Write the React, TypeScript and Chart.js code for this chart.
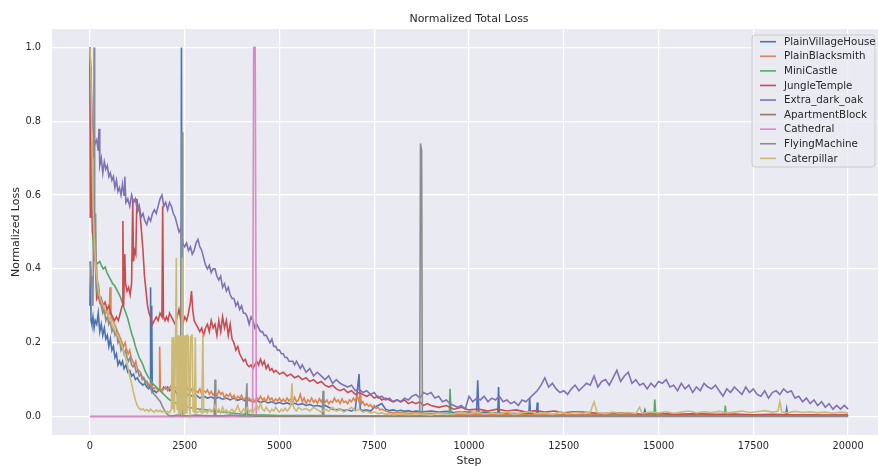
import { useEffect, useRef } from 'react';
import { Chart, registerables } from 'chart.js';
Chart.register(...registerables);

const seriesNames = ['PlainVillageHouse', 'PlainBlacksmith', 'MiniCastle', 'JungleTemple', 'Extra_dark_oak', 'ApartmentBlock', 'Cathedral', 'FlyingMachine', 'Caterpillar'];
const seriesColors = ['#4C72B0', '#DD8452', '#55A868', '#C44E52', '#8172B3', '#937860', '#DA8BC3', '#8C8C8C', '#CCB974'];
const xTicks = [0, 2500, 5000, 7500, 10000, 12500, 15000, 17500, 20000];
const yTicks = [0, 0.2, 0.4, 0.6, 0.8, 1.0];

type P = [number, number][];

const plainVillageHouse: P = [
  [0,0.30],[15,0.42],[30,0.26],[50,0.25],[80,0.27],[110,0.24],[140,0.26],[180,0.25],[220,0.28],[260,0.23],[300,0.25],[340,0.22],[380,0.24],[420,0.21],[460,0.22],[500,0.19],[540,0.21],[580,0.18],[620,0.19],[660,0.16],[700,0.17],[740,0.14],[780,0.15],[820,0.14],[860,0.15],[900,0.13],[950,0.14],[1000,0.12],[1050,0.125],[1100,0.11],[1150,0.115],[1200,0.10],[1250,0.105],[1300,0.095],[1350,0.09],[1400,0.085],[1450,0.09],[1500,0.08],[1550,0.075],[1590,0.08],[1600,0.35],[1615,0.08],[1630,0.30],[1645,0.065],[1700,0.07],[1750,0.065],[1800,0.07],[1850,0.075],[1900,0.07],[1950,0.08],[2000,0.075],[2050,0.08],[2100,0.07],[2150,0.075],[2200,0.065],[2250,0.07],[2300,0.06],[2350,0.065],[2400,0.06],[2415,1.0],[2430,0.06],[2450,0.055],[2500,0.06],[2550,0.055],[2600,0.06],[2700,0.055],[2800,0.058],[2900,0.05],[3000,0.055],[3100,0.05],[3200,0.053],[3300,0.048],[3400,0.052],[3500,0.047],[3600,0.05],[3700,0.045],[3800,0.05],[3900,0.044],[4000,0.048],[4100,0.042],[4200,0.045],[4300,0.04],[4400,0.044],[4500,0.038],[4600,0.042],[4700,0.037],[4800,0.04],[4900,0.035],[5000,0.038],[5100,0.034],[5200,0.037],[5300,0.033],[5400,0.036],[5500,0.032],[5600,0.035],[5700,0.03],[5800,0.033],[5900,0.028],[6000,0.03],[6100,0.027],[6200,0.03],[6300,0.025],[6400,0.02],[6500,0.018],[6600,0.02],[6700,0.016],[6800,0.018],[6900,0.015],[7000,0.02],[7100,0.115],[7130,0.02],[7200,0.016],[7300,0.018],[7400,0.015],[7500,0.025],[7600,0.03],[7700,0.035],[7800,0.02],[7900,0.016],[8000,0.018],[8100,0.015],[8200,0.017],[8300,0.014],[8400,0.016],[8500,0.013],[8600,0.015],[8800,0.013],[9000,0.015],[9200,0.012],[9400,0.014],[9600,0.011],[9800,0.013],[10000,0.012],[10200,0.01],[10230,0.098],[10260,0.01],[10400,0.012],[10600,0.01],[10760,0.011],[10780,0.08],[10800,0.01],[11000,0.009],[11200,0.008],[11580,0.008],[11600,0.05],[11620,0.008],[11780,0.007],[11800,0.038],[11820,0.007],[12000,0.006],[12500,0.005],[13000,0.005],[13500,0.004],[14000,0.005],[14600,0.004],[14640,0.018],[14680,0.004],[15000,0.004],[16000,0.004],[17000,0.003],[18000,0.003],[18350,0.003],[18380,0.022],[18410,0.003],[19000,0.003],[20000,0.003]
];

const plainBlacksmith: P = [
  [0,1.0],[20,0.85],[40,0.77],[60,0.6],[80,0.58],[110,0.5],[140,0.45],[170,0.42],[200,0.36],[240,0.34],[280,0.31],[320,0.30],[360,0.29],[400,0.28],[440,0.29],[480,0.27],[510,0.28],[530,0.35],[555,0.27],[610,0.26],[650,0.25],[690,0.24],[730,0.23],[770,0.22],[810,0.21],[850,0.20],[890,0.19],[930,0.2],[970,0.18],[1010,0.17],[1050,0.18],[1090,0.16],[1130,0.15],[1170,0.14],[1210,0.15],[1250,0.13],[1290,0.125],[1330,0.12],[1370,0.11],[1410,0.105],[1450,0.1],[1490,0.095],[1530,0.09],[1570,0.085],[1610,0.09],[1650,0.08],[1690,0.075],[1740,0.08],[1800,0.07],[1825,0.075],[1840,0.19],[1860,0.075],[1900,0.068],[1950,0.075],[2000,0.08],[2050,0.07],[2100,0.078],[2150,0.085],[2200,0.072],[2250,0.08],[2300,0.075],[2350,0.09],[2400,0.07],[2450,0.085],[2500,0.075],[2550,0.08],[2600,0.072],[2650,0.078],[2700,0.068],[2750,0.075],[2800,0.07],[2850,0.065],[2900,0.075],[2950,0.06],[3000,0.07],[3050,0.065],[3100,0.072],[3150,0.06],[3200,0.068],[3250,0.058],[3300,0.065],[3350,0.055],[3400,0.07],[3450,0.06],[3500,0.065],[3550,0.05],[3600,0.06],[3650,0.055],[3700,0.062],[3750,0.05],[3800,0.058],[3850,0.045],[3900,0.055],[3950,0.05],[4000,0.058],[4050,0.045],[4100,0.05],[4150,0.04],[4200,0.05],[4250,0.042],[4300,0.048],[4350,0.04],[4400,0.052],[4450,0.045],[4500,0.055],[4550,0.045],[4600,0.05],[4650,0.04],[4700,0.055],[4750,0.045],[4800,0.05],[4850,0.04],[4900,0.048],[4950,0.042],[5000,0.05],[5050,0.04],[5100,0.047],[5150,0.04],[5200,0.05],[5250,0.042],[5300,0.048],[5350,0.04],[5400,0.052],[5450,0.04],[5500,0.045],[5550,0.06],[5600,0.04],[5650,0.05],[5700,0.035],[5750,0.045],[5800,0.04],[5850,0.05],[5900,0.038],[5950,0.045],[6000,0.035],[6050,0.048],[6100,0.04],[6150,0.05],[6200,0.038],[6250,0.045],[6300,0.035],[6350,0.042],[6400,0.038],[6450,0.05],[6500,0.04],[6550,0.045],[6600,0.035],[6650,0.048],[6700,0.038],[6750,0.042],[6800,0.035],[6850,0.045],[6900,0.04],[6950,0.05],[7000,0.042],[7050,0.055],[7100,0.04],[7130,0.07],[7160,0.035],[7200,0.04],[7250,0.03],[7300,0.035],[7350,0.028],[7400,0.032],[7450,0.025],[7500,0.03],[7550,0.022],[7600,0.025],[7650,0.018],[7700,0.02],[7800,0.015],[7900,0.012],[8000,0.01],[8200,0.011],[8400,0.009],[8600,0.01],[8800,0.008],[9000,0.009],[9500,0.007],[10000,0.006],[11000,0.005],[12000,0.005],[14000,0.004],[16000,0.004],[18000,0.003],[20000,0.003]
];

const miniCastle: P = [
  [0,1.0],[20,0.8],[40,0.63],[70,0.5],[100,0.45],[150,0.42],[200,0.415],[260,0.42],[300,0.41],[350,0.40],[400,0.405],[450,0.39],[500,0.38],[550,0.37],[600,0.36],[650,0.355],[700,0.345],[750,0.335],[800,0.325],[850,0.31],[900,0.295],[950,0.28],[1000,0.265],[1050,0.245],[1100,0.225],[1150,0.21],[1200,0.19],[1250,0.175],[1300,0.16],[1350,0.15],[1400,0.14],[1450,0.125],[1500,0.115],[1550,0.105],[1600,0.1],[1650,0.09],[1700,0.085],[1750,0.08],[1800,0.075],[1850,0.07],[1900,0.065],[1950,0.06],[2000,0.055],[2050,0.05],[2100,0.045],[2200,0.04],[2300,0.035],[2400,0.03],[2500,0.027],[2600,0.025],[2700,0.023],[2800,0.022],[2900,0.02],[3000,0.019],[3200,0.016],[3400,0.013],[3600,0.011],[3800,0.009],[4000,0.007],[4300,0.005],[4600,0.004],[5000,0.003],[6000,0.003],[7000,0.002],[8000,0.002],[9000,0.002],[9480,0.003],[9500,0.075],[9530,0.003],[10000,0.002],[12000,0.002],[14000,0.002],[14880,0.002],[14900,0.046],[14930,0.002],[16000,0.002],[16740,0.002],[16760,0.03],[16790,0.002],[18000,0.002],[20000,0.002]
];

const jungleTemple: P = [
  [0,1.0],[10,0.54],[20,0.95],[30,0.60],[50,0.75],[70,0.50],[100,0.48],[130,0.45],[160,0.38],[180,0.32],[220,0.33],[260,0.31],[300,0.32],[350,0.30],[400,0.31],[450,0.29],[500,0.30],[550,0.28],[600,0.27],[650,0.26],[700,0.27],[750,0.26],[800,0.28],[850,0.30],[870,0.53],[890,0.30],[920,0.44],[940,0.36],[980,0.34],[1020,0.35],[1060,0.33],[1100,0.36],[1130,0.59],[1150,0.42],[1180,0.45],[1210,0.44],[1240,0.59],[1270,0.56],[1300,0.57],[1330,0.54],[1370,0.49],[1400,0.45],[1440,0.38],[1480,0.34],[1520,0.30],[1560,0.28],[1600,0.27],[1650,0.25],[1700,0.26],[1750,0.27],[1800,0.26],[1850,0.28],[1900,0.27],[1920,0.57],[1940,0.27],[1980,0.26],[2020,0.27],[2060,0.26],[2100,0.28],[2150,0.27],[2200,0.26],[2250,0.25],[2300,0.27],[2350,0.29],[2400,0.26],[2450,0.25],[2500,0.27],[2550,0.26],[2600,0.28],[2650,0.31],[2680,0.34],[2710,0.29],[2750,0.26],[2800,0.25],[2850,0.24],[2900,0.23],[2950,0.24],[3000,0.22],[3050,0.24],[3100,0.25],[3150,0.23],[3200,0.26],[3250,0.24],[3300,0.25],[3350,0.22],[3400,0.26],[3450,0.23],[3500,0.27],[3550,0.24],[3600,0.26],[3650,0.22],[3700,0.25],[3750,0.21],[3800,0.20],[3850,0.18],[3900,0.19],[3950,0.17],[4000,0.16],[4050,0.15],[4100,0.155],[4150,0.14],[4200,0.135],[4250,0.14],[4300,0.13],[4350,0.14],[4400,0.15],[4450,0.14],[4500,0.155],[4550,0.14],[4600,0.15],[4650,0.13],[4700,0.14],[4750,0.125],[4800,0.13],[4850,0.12],[4900,0.125],[4950,0.12],[5000,0.115],[5100,0.12],[5200,0.11],[5300,0.115],[5400,0.105],[5500,0.11],[5600,0.1],[5700,0.105],[5800,0.095],[5900,0.1],[6000,0.09],[6100,0.095],[6200,0.085],[6300,0.08],[6400,0.085],[6500,0.075],[6600,0.07],[6700,0.075],[6800,0.065],[6900,0.07],[7000,0.06],[7100,0.065],[7200,0.06],[7300,0.055],[7400,0.06],[7500,0.05],[7600,0.055],[7700,0.045],[7800,0.05],[7900,0.045],[8000,0.04],[8100,0.045],[8200,0.04],[8300,0.045],[8400,0.035],[8500,0.04],[8600,0.035],[8700,0.04],[8800,0.03],[8900,0.035],[9000,0.03],[9200,0.025],[9400,0.03],[9600,0.02],[9800,0.025],[10000,0.018],[10250,0.02],[10500,0.015],[10750,0.02],[11000,0.015],[11250,0.018],[11500,0.012],[11750,0.016],[12000,0.012],[12250,0.015],[12500,0.01],[12750,0.013],[13000,0.012],[13250,0.01],[13500,0.008],[14000,0.01],[14500,0.007],[15000,0.009],[15500,0.006],[16000,0.008],[16500,0.006],[17000,0.007],[17500,0.005],[18000,0.006],[18500,0.005],[19000,0.005],[19500,0.004],[20000,0.005]
];

const extraDarkOak: P = [
  [0,1.0],[30,0.92],[60,0.80],[100,0.76],[140,0.74],[180,0.75],[220,0.72],[240,0.78],[260,0.68],[300,0.70],[340,0.66],[380,0.69],[420,0.67],[460,0.68],[500,0.65],[540,0.66],[580,0.64],[620,0.65],[660,0.62],[700,0.64],[740,0.61],[780,0.62],[820,0.60],[860,0.63],[900,0.60],[920,0.65],[950,0.58],[1000,0.59],[1050,0.57],[1100,0.60],[1150,0.58],[1200,0.59],[1250,0.56],[1300,0.57],[1350,0.54],[1400,0.55],[1450,0.53],[1500,0.52],[1550,0.54],[1600,0.53],[1650,0.55],[1700,0.56],[1750,0.55],[1800,0.57],[1850,0.59],[1900,0.60],[1950,0.57],[2000,0.58],[2050,0.56],[2100,0.58],[2150,0.57],[2200,0.55],[2250,0.54],[2300,0.52],[2350,0.50],[2400,0.51],[2450,0.47],[2500,0.46],[2550,0.47],[2600,0.45],[2650,0.46],[2700,0.44],[2750,0.45],[2800,0.47],[2850,0.48],[2900,0.46],[2950,0.45],[3000,0.43],[3050,0.41],[3100,0.40],[3150,0.41],[3200,0.39],[3250,0.40],[3300,0.40],[3350,0.38],[3400,0.37],[3450,0.38],[3500,0.35],[3550,0.36],[3600,0.34],[3650,0.35],[3700,0.33],[3750,0.32],[3800,0.32],[3850,0.30],[3900,0.31],[3950,0.29],[4000,0.30],[4050,0.28],[4100,0.28],[4150,0.27],[4200,0.25],[4250,0.27],[4300,0.26],[4350,0.24],[4400,0.25],[4450,0.24],[4500,0.23],[4550,0.23],[4600,0.22],[4650,0.22],[4700,0.21],[4750,0.20],[4800,0.21],[4850,0.19],[4900,0.19],[4950,0.18],[5000,0.18],[5050,0.17],[5100,0.17],[5150,0.16],[5200,0.16],[5250,0.15],[5300,0.15],[5350,0.15],[5400,0.14],[5450,0.15],[5500,0.14],[5550,0.13],[5600,0.14],[5700,0.12],[5800,0.13],[5900,0.11],[6000,0.12],[6100,0.11],[6200,0.10],[6300,0.11],[6400,0.09],[6500,0.10],[6600,0.09],[6700,0.085],[6800,0.08],[6900,0.085],[7000,0.07],[7100,0.075],[7200,0.065],[7300,0.07],[7400,0.06],[7500,0.065],[7600,0.05],[7700,0.055],[7800,0.045],[7900,0.05],[8000,0.04],[8100,0.045],[8200,0.04],[8300,0.05],[8400,0.045],[8500,0.055],[8600,0.06],[8700,0.05],[8800,0.065],[8900,0.06],[9000,0.065],[9100,0.05],[9200,0.055],[9300,0.04],[9400,0.045],[9500,0.035],[9600,0.03],[9700,0.025],[9800,0.03],[9900,0.02],[10000,0.055],[10100,0.04],[10200,0.05],[10300,0.045],[10400,0.055],[10500,0.04],[10600,0.05],[10700,0.045],[10800,0.055],[10900,0.04],[11000,0.045],[11100,0.035],[11200,0.04],[11300,0.03],[11400,0.045],[11500,0.04],[11600,0.05],[11700,0.06],[11800,0.07],[11900,0.085],[12000,0.105],[12100,0.08],[12200,0.09],[12300,0.075],[12400,0.065],[12500,0.07],[12600,0.06],[12700,0.075],[12800,0.085],[12900,0.07],[13000,0.08],[13100,0.09],[13200,0.085],[13300,0.11],[13400,0.08],[13500,0.095],[13600,0.1],[13700,0.085],[13800,0.105],[13900,0.125],[14000,0.095],[14100,0.11],[14200,0.12],[14300,0.09],[14400,0.1],[14500,0.085],[14600,0.09],[14700,0.075],[14800,0.09],[14900,0.08],[15000,0.095],[15100,0.09],[15200,0.1],[15300,0.08],[15400,0.085],[15500,0.07],[15600,0.09],[15700,0.075],[15800,0.085],[15900,0.065],[16000,0.08],[16100,0.07],[16200,0.09],[16300,0.08],[16400,0.075],[16500,0.085],[16600,0.07],[16700,0.055],[16800,0.075],[16900,0.065],[17000,0.08],[17100,0.07],[17200,0.06],[17300,0.08],[17400,0.065],[17500,0.075],[17600,0.06],[17700,0.055],[17800,0.07],[17900,0.05],[18000,0.065],[18100,0.07],[18200,0.06],[18300,0.075],[18400,0.065],[18500,0.07],[18600,0.05],[18700,0.055],[18800,0.04],[18900,0.05],[19000,0.035],[19100,0.045],[19200,0.03],[19300,0.04],[19400,0.025],[19500,0.035],[19600,0.02],[19700,0.03],[19800,0.02],[19900,0.03],[20000,0.02]
];

const apartmentBlock: P = [[0,0],[20000,0]];

const cathedral: P = [[0,0],[4290,0],[4320,1.0],[4360,1.0],[4390,0]];

const flyingMachine: P = [
  [0,0.42],[20,0.40],[40,0.35],[60,0.38],[80,0.30],[100,0.55],[110,1.0],[125,0.48],[150,0.55],[170,0.35],[200,0.33],[230,0.35],[260,0.31],[300,0.30],[340,0.28],[380,0.29],[420,0.26],[460,0.27],[500,0.25],[540,0.26],[580,0.23],[620,0.24],[660,0.22],[700,0.23],[740,0.2],[780,0.21],[820,0.18],[860,0.19],[900,0.17],[940,0.18],[980,0.16],[1020,0.15],[1060,0.16],[1100,0.14],[1140,0.135],[1180,0.14],[1220,0.12],[1260,0.125],[1300,0.11],[1340,0.115],[1380,0.1],[1420,0.105],[1460,0.09],[1500,0.095],[1540,0.08],[1580,0.085],[1620,0.07],[1660,0.065],[1700,0.06],[1740,0.055],[1780,0.05],[1820,0.045],[1860,0.04],[1900,0.03],[1950,0.02],[2000,0.012],[2050,0.005],[2100,0.003],[2200,0.002],[2300,0.004],[2400,0.003],[2430,0.77],[2450,0.003],[2600,0.002],[2800,0.004],[3000,0.003],[3200,0.002],[3280,0.003],[3300,0.10],[3320,0.003],[3500,0.002],[3700,0.004],[3900,0.003],[4100,0.002],[4140,0.09],[4160,0.002],[4400,0.003],[5000,0.002],[6000,0.002],[6130,0.002],[6150,0.07],[6170,0.002],[7000,0.002],[8000,0.002],[8700,0.002],[8720,0.74],[8750,0.72],[8770,0.002],[10000,0.002],[12000,0.001],[15000,0.001],[20000,0.001]
];

const caterpillar: P = [
  [0,1.0],[20,0.95],[40,0.84],[60,0.7],[80,0.58],[100,0.52],[130,0.45],[160,0.4],[200,0.36],[240,0.33],[280,0.32],[320,0.305],[360,0.3],[400,0.29],[450,0.28],[500,0.27],[550,0.26],[600,0.245],[650,0.235],[700,0.225],[750,0.215],[800,0.205],[850,0.19],[900,0.175],[950,0.155],[1000,0.135],[1050,0.11],[1100,0.09],[1150,0.065],[1200,0.045],[1250,0.03],[1300,0.022],[1350,0.018],[1400,0.021],[1450,0.015],[1500,0.019],[1550,0.014],[1600,0.02],[1650,0.015],[1700,0.012],[1750,0.018],[1800,0.013],[1850,0.017],[1900,0.012],[1950,0.016],[2000,0.01],[2050,0.014],[2100,0.01],[2150,0.02],[2170,0.215],[2190,0.02],[2210,0.215],[2230,0.01],[2260,0.22],[2280,0.43],[2300,0.02],[2320,0.22],[2340,0.005],[2360,0.22],[2380,0.01],[2400,0.22],[2420,0.005],[2440,0.43],[2460,0.02],[2480,0.22],[2500,0.005],[2520,0.22],[2540,0.01],[2560,0.22],[2580,0.22],[2600,0.215],[2620,0.02],[2640,0.01],[2660,0.215],[2680,0.22],[2700,0.22],[2720,0.015],[2760,0.012],[2780,0.215],[2800,0.01],[2850,0.012],[2900,0.015],[2950,0.01],[2980,0.225],[3000,0.012],[3050,0.015],[3100,0.01],[3150,0.02],[3200,0.012],[3250,0.018],[3300,0.03],[3350,0.012],[3400,0.02],[3450,0.01],[3500,0.025],[3550,0.012],[3600,0.018],[3650,0.01],[3700,0.015],[3750,0.02],[3800,0.012],[3850,0.018],[3900,0.03],[3950,0.015],[4000,0.01],[4050,0.02],[4100,0.015],[4150,0.025],[4200,0.012],[4250,0.018],[4300,0.01],[4350,0.02],[4400,0.03],[4450,0.02],[4500,0.035],[4550,0.02],[4600,0.015],[4650,0.025],[4700,0.018],[4750,0.012],[4800,0.02],[4850,0.015],[4900,0.025],[4950,0.018],[5000,0.012],[5050,0.02],[5100,0.015],[5150,0.022],[5200,0.015],[5250,0.02],[5300,0.03],[5330,0.09],[5360,0.03],[5400,0.02],[5450,0.015],[5500,0.025],[5600,0.018],[5700,0.022],[5800,0.015],[5900,0.025],[6000,0.018],[6100,0.012],[6200,0.02],[6300,0.015],[6400,0.025],[6500,0.015],[6600,0.02],[6700,0.012],[6800,0.018],[6900,0.025],[7000,0.015],[7100,0.02],[7200,0.012],[7300,0.015],[7400,0.01],[7500,0.012],[7600,0.008],[7700,0.01],[7800,0.006],[7900,0.008],[8000,0.005],[8200,0.007],[8400,0.005],[8600,0.008],[8800,0.006],[9000,0.004],[9200,0.01],[9400,0.006],[9600,0.008],[9800,0.012],[10000,0.008],[10200,0.012],[10400,0.007],[10600,0.01],[10800,0.008],[11000,0.012],[11200,0.006],[11400,0.01],[11600,0.013],[11800,0.008],[12000,0.01],[12200,0.006],[12400,0.012],[12600,0.008],[12800,0.011],[13000,0.009],[13200,0.012],[13300,0.04],[13380,0.01],[13600,0.008],[13800,0.012],[14000,0.009],[14200,0.011],[14400,0.008],[14500,0.025],[14560,0.009],[14800,0.012],[15000,0.01],[15200,0.013],[15400,0.009],[15600,0.012],[15800,0.015],[16000,0.01],[16200,0.013],[16400,0.011],[16600,0.014],[16800,0.01],[17000,0.012],[17200,0.015],[17400,0.011],[17600,0.013],[17800,0.016],[18000,0.012],[18150,0.014],[18200,0.04],[18250,0.013],[18400,0.01],[18600,0.014],[18800,0.011],[19000,0.013],[19200,0.01],[19400,0.012],[19600,0.009],[19800,0.012],[20000,0.01]
];

const seriesData: P[] = [plainVillageHouse, plainBlacksmith, miniCastle, jungleTemple, extraDarkOak, apartmentBlock, cathedral, flyingMachine, caterpillar];

const FONT = "'DejaVu Sans', sans-serif";
const TEXT = '#262626';

const decor = {
  id: 'decor',
  beforeDraw(chart: any) {
    const { ctx, chartArea: a } = chart;
    ctx.save();
    ctx.fillStyle = '#EAEAF2';
    ctx.fillRect(a.left, a.top, a.right - a.left, a.bottom - a.top);
    ctx.restore();
  },
  afterDraw(chart: any) {
    const { ctx, chartArea: a } = chart;
    const cx = (a.left + a.right) / 2;
    ctx.save();
    ctx.fillStyle = TEXT;
    ctx.textAlign = 'center';
    ctx.textBaseline = 'alphabetic';
    ctx.font = `11px ${FONT}`;
    ctx.fillText('Normalized Total Loss', cx, 22);
    ctx.fillText('Step', cx, 464);
    ctx.save();
    ctx.translate(18.5, (a.top + a.bottom) / 2);
    ctx.rotate(-Math.PI / 2);
    ctx.fillText('Normalized Loss', 0, 0);
    ctx.restore();

    // legend
    const lx = 752, ly = 35, lw = 123, lh = 132, r = 3;
    ctx.beginPath();
    ctx.moveTo(lx + r, ly);
    ctx.lineTo(lx + lw - r, ly);
    ctx.arcTo(lx + lw, ly, lx + lw, ly + r, r);
    ctx.lineTo(lx + lw, ly + lh - r);
    ctx.arcTo(lx + lw, ly + lh, lx + lw - r, ly + lh, r);
    ctx.lineTo(lx + r, ly + lh);
    ctx.arcTo(lx, ly + lh, lx, ly + lh - r, r);
    ctx.lineTo(lx, ly + r);
    ctx.arcTo(lx, ly, lx + r, ly, r);
    ctx.closePath();
    ctx.fillStyle = 'rgba(234,234,242,0.8)';
    ctx.fill();
    ctx.strokeStyle = '#cccccc';
    ctx.lineWidth = 1;
    ctx.stroke();
    ctx.font = `10.3px ${FONT}`;
    ctx.textAlign = 'left';
    ctx.textBaseline = 'middle';
    seriesNames.forEach((name, i) => {
      const y = 41.7 + i * 14.58;
      ctx.strokeStyle = seriesColors[i];
      ctx.lineWidth = 1.6;
      ctx.beginPath();
      ctx.moveTo(760, y);
      ctx.lineTo(776, y);
      ctx.stroke();
      ctx.fillStyle = TEXT;
      ctx.fillText(name, 784, y + 0.5);
    });
    ctx.restore();
  },
};

export default function App() {
  const ref = useRef<HTMLCanvasElement>(null);
  useEffect(() => {
    const n = seriesNames.length;
    const chart = new Chart(ref.current!, {
      type: 'line',
      data: {
        datasets: seriesNames.map((name, i) => ({
          label: name,
          data: seriesData[i].map(([x, y]) => ({ x, y })),
          borderColor: seriesColors[i],
          backgroundColor: seriesColors[i],
          borderWidth: 1.6,
          pointRadius: 0,
          tension: 0,
          fill: false,
          order: n - 1 - i,
        })),
      },
      options: {
        animation: false,
        responsive: false,
        events: [],
        layout: { padding: { left: 0, right: 14, top: 29, bottom: 0 } },
        scales: {
          x: {
            type: 'linear',
            min: -1000,
            max: 21000,
            afterBuildTicks: (s: any) => { s.ticks = xTicks.map((v) => ({ value: v })); },
            afterFit: (s: any) => { s.height = 31; },
            grid: { color: '#ffffff', lineWidth: 1.2, drawTicks: false },
            border: { display: false },
            ticks: { padding: 6, color: TEXT, font: { family: FONT, size: 9.8 }, autoSkip: false, maxRotation: 0, minRotation: 0, callback: (v: any) => String(v) },
          },
          y: {
            type: 'linear',
            min: -0.05,
            max: 1.05,
            afterBuildTicks: (s: any) => { s.ticks = yTicks.map((v) => ({ value: v })); },
            afterFit: (s: any) => { s.width = 52; },
            grid: { color: '#ffffff', lineWidth: 1.2, drawTicks: false },
            border: { display: false },
            ticks: { padding: 11, color: TEXT, font: { family: FONT, size: 9.8 }, autoSkip: false, callback: (v: any) => Number(v).toFixed(1) },
          },
        },
        plugins: { legend: { display: false }, tooltip: { enabled: false }, title: { display: false } },
      },
      plugins: [decor],
    } as any);
    return () => chart.destroy();
  }, []);
  return (
    <div style={{ position: 'fixed', left: 0, top: 0, width: 878, height: 466, overflow: 'hidden', background: '#fff' }}>
      <canvas ref={ref} width={900} height={466} style={{ display: 'block' }} />
    </div>
  );
}
